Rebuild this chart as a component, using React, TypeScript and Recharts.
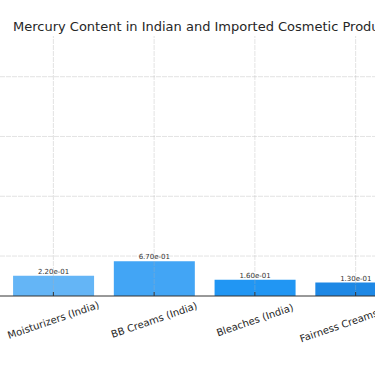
import { BarChart, Bar, XAxis, YAxis, ReferenceLine, Cell, LabelList } from 'recharts';

const categories = ['Moisturizers (India)', 'BB Creams (India)', 'Bleaches (India)', 'Fairness Creams (India)'];
const mercuryPpm = [0.22, 0.67, 0.16, 0.13];
const yTicks = [1, 100, 10000, 1000000];
const barColors = ['#64B5F6', '#42A5F5', '#2196F3', '#1E88E5'];

const data = categories.map((name, i) => ({ name, value: mercuryPpm[i] }));

const FONT = '"DejaVu Sans", Verdana, sans-serif';
const GRID = '#b0b0b0';

// matplotlib-style "2.20e-01"
function sci(v: number): string {
  const [m, e] = v.toExponential(2).split('e');
  const n = Number(e);
  const sign = n < 0 ? '-' : '+';
  return `${m}e${sign}${String(Math.abs(n)).padStart(2, '0')}`;
}

function CategoryTick({ x, y, payload }: { x?: number; y?: number; payload?: { value: string } }) {
  const cx = x ?? 0;
  const cy = y ?? 0;
  const ly = cy + 24;
  return (
    <g>
      <line x1={cx} y1={cy - 4} x2={cx} y2={cy} stroke="#333" strokeWidth={1} />
      <text
        x={cx}
        y={ly}
        textAnchor="middle"
        dominantBaseline="central"
        transform={`rotate(-19, ${cx}, ${ly})`}
        fontSize={10}
        fontFamily={FONT}
        fill="#262626"
      >
        {payload?.value}
      </text>
    </g>
  );
}

export default function App() {
  return (
    <div
      style={{
        position: 'fixed',
        left: 0,
        top: 0,
        width: 375,
        height: 366,
        overflow: 'hidden',
        background: '#fff',
      }}
    >
      <div
        style={{
          position: 'absolute',
          left: 13,
          top: 19,
          fontSize: 13,
          lineHeight: '15px',
          fontFamily: FONT,
          color: '#262626',
          whiteSpace: 'nowrap',
        }}
      >
        Mercury Content in Indian and Imported Cosmetic Products
      </div>
      <BarChart
        width={406}
        height={366}
        data={data}
        margin={{ top: 36, right: 0, bottom: 0, left: 0 }}
        barCategoryGap="10%"
      >
        <XAxis
          dataKey="name"
          interval={0}
          padding={{ left: 3, right: 0 }}
          axisLine={{ stroke: '#333', strokeWidth: 1 }}
          tickLine={false}
          tickSize={0}
          tickMargin={0}
          tick={<CategoryTick />}
          height={70}
        />
        {/* y axis lies off the left edge in the reference */}
        <YAxis
          type="number"
          scale="log"
          domain={[0.046, 2.3e7]}
          allowDataOverflow
          ticks={yTicks}
          width={0}
          tick={false}
          axisLine={false}
          tickLine={false}
        />
        <Bar dataKey="value" isAnimationActive={false}>
          {data.map((d, i) => (
            <Cell key={d.name} fill={barColors[i % barColors.length]} />
          ))}
          <LabelList
            dataKey="value"
            position="top"
            offset={2}
            formatter={(v: number) => sci(v)}
            style={{ fontSize: 7, fontFamily: FONT, fill: '#333' }}
          />
        </Bar>
        {/* grid lines, faint, drawn over the bars like the reference */}
        {yTicks.map((t) => (
          <ReferenceLine key={`h${t}`} y={t} stroke={GRID} strokeOpacity={0.35} strokeDasharray="5 1" />
        ))}
        {categories.map((c) => (
          <ReferenceLine key={`v${c}`} x={c} stroke={GRID} strokeOpacity={0.35} strokeDasharray="5 1" />
        ))}
      </BarChart>
    </div>
  );
}
